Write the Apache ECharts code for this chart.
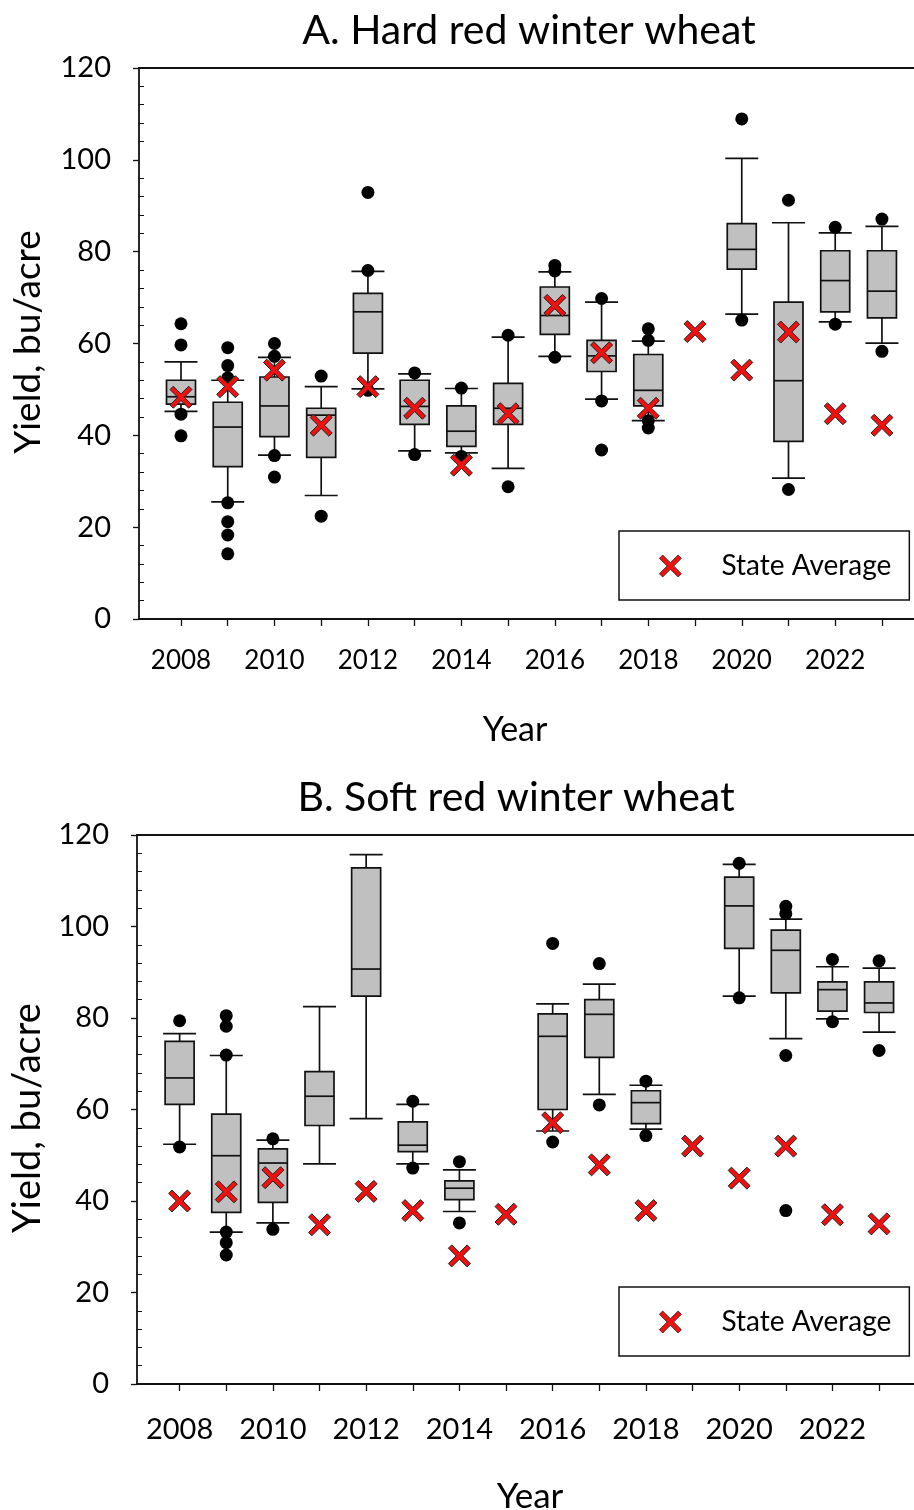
<!DOCTYPE html>
<html>
<head>
<meta charset="utf-8">
<script src="https://cdn.jsdelivr.net/npm/echarts@6/dist/echarts.min.js"></script>
<style>
html, body { margin: 0; padding: 0; background: #fff; }
#box { width: 914px; height: 1510px; }
</style>
</head>
<body>
<div id="box"></div>
<script>
// year axis
const tickYears = [2008, 2009, 2010, 2011, 2012, 2013, 2014, 2015, 2016, 2017, 2018, 2019, 2020, 2021, 2022, 2023]
const labelYears = [2008, 2010, 2012, 2014, 2016, 2018, 2020, 2022]

// A. Hard red winter wheat
const hrwBoxYears = [2008, 2009, 2010, 2011, 2012, 2013, 2014, 2015, 2016, 2017, 2018, 2020, 2021, 2022, 2023]
const hrwLow = [45.2, 25.5, 35.7, 26.9, 50.1, 36.6, 36.2, 32.8, 57.2, 47.9, 43.2, 66.4, 30.7, 64.7, 60.1]
const hrwQ1 = [46.8, 33.2, 39.7, 35.2, 57.9, 42.4, 37.6, 42.4, 62.0, 53.9, 46.4, 76.2, 38.7, 66.9, 65.6]
const hrwMedian = [48.4, 41.8, 46.4, 44.4, 66.9, 46.3, 40.9, 45.9, 66.1, 57.3, 49.8, 80.5, 51.9, 73.7, 71.4]
const hrwQ3 = [52.0, 47.2, 52.7, 45.9, 70.9, 52.0, 46.4, 51.3, 72.3, 60.7, 57.6, 86.1, 69.0, 80.2, 80.2]
const hrwHigh = [56.0, 52.0, 57.0, 50.6, 75.7, 53.4, 50.2, 61.4, 75.6, 69.0, 60.5, 100.3, 86.3, 84.1, 85.5]
const hrwOutliers = [
  [2008, 64.3], [2008, 59.7], [2008, 44.6], [2008, 39.9],
  [2009, 59.1], [2009, 55.2], [2009, 52.5], [2009, 25.3], [2009, 21.2], [2009, 18.3], [2009, 14.2],
  [2010, 60.0], [2010, 57.2], [2010, 35.6], [2010, 30.9],
  [2011, 52.9], [2011, 22.4],
  [2012, 92.9], [2012, 75.9], [2012, 49.8],
  [2013, 53.6], [2013, 35.8],
  [2014, 50.3], [2014, 35.4],
  [2015, 61.8], [2015, 28.8],
  [2016, 77.0], [2016, 75.8], [2016, 57.0],
  [2017, 69.8], [2017, 47.5], [2017, 36.8],
  [2018, 63.2], [2018, 60.7], [2018, 43.2], [2018, 41.6],
  [2020, 108.9], [2020, 65.1],
  [2021, 91.2], [2021, 28.2],
  [2022, 85.3], [2022, 64.2],
  [2023, 87.1], [2023, 58.3]
]
const hrwStateAvg = [48.3, 50.6, 54.2, 42.2, 50.6, 45.9, 33.5, 44.7, 68.3, 58.0, 45.9, 62.6, 54.2, 62.5, 44.7, 42.2]

// B. Soft red winter wheat
const srwBoxYears = [2008, 2009, 2010, 2011, 2012, 2013, 2014, 2016, 2017, 2018, 2020, 2021, 2022, 2023]
const srwLow = [52.4, 33.2, 35.2, 48.1, 58.0, 48.1, 37.7, 55.3, 63.3, 55.7, 84.8, 75.5, 79.8, 76.9]
const srwQ1 = [61.1, 37.5, 39.7, 56.5, 84.8, 50.8, 40.3, 60.0, 71.4, 56.9, 95.2, 85.5, 81.5, 81.2]
const srwMedian = [66.9, 49.9, 48.3, 62.9, 90.7, 52.2, 42.8, 76.0, 80.8, 61.5, 104.5, 94.8, 86.2, 83.3]
const srwQ3 = [74.9, 59.0, 51.4, 68.3, 112.8, 57.3, 44.4, 80.9, 84.0, 64.1, 110.8, 99.2, 87.9, 87.9]
const srwHigh = [76.6, 71.8, 53.3, 82.5, 115.7, 61.1, 46.8, 83.1, 87.4, 65.3, 113.6, 101.6, 91.2, 90.9]
const srwOutliers = [
  [2008, 79.4], [2008, 51.8],
  [2009, 80.5], [2009, 78.2], [2009, 71.9], [2009, 33.2], [2009, 30.9], [2009, 28.2],
  [2010, 53.6], [2010, 33.8],
  [2013, 61.8], [2013, 47.2],
  [2014, 48.6], [2014, 35.2],
  [2016, 96.3], [2016, 52.9],
  [2017, 91.9], [2017, 61.0],
  [2018, 66.2], [2018, 54.3],
  [2020, 113.8], [2020, 84.4],
  [2021, 104.4], [2021, 102.8], [2021, 71.8], [2021, 37.9],
  [2022, 92.8], [2022, 79.2],
  [2023, 92.5], [2023, 72.9]
]
const srwStateAvg = [40.0, 42.0, 45.1, 34.8, 42.1, 37.9, 28.0, 37.1, 57.1, 47.9, 37.9, 52.0, 45.0, 52.0, 37.0, 35.0]

const FONT = 'Lato'
const INK = '#111'
const RED = '#f01010'
const CROSS = 'path://M0,15 L15,0 L50,35 L85,0 L100,15 L65,50 L100,85 L85,100 L50,65 L15,100 L0,85 L35,50 Z'

function boxRows(years, low, q1, med, q3, high) {
  return years.map((y, i) => [y, low[i], q1[i], med[i], q3[i], high[i]])
}

function renderBox(params, api) {
  const x = api.value(0)
  const lo = api.coord([x, api.value(1)])
  const q1 = api.coord([x, api.value(2)])
  const md = api.coord([x, api.value(3)])
  const q3 = api.coord([x, api.value(4)])
  const hi = api.coord([x, api.value(5)])
  const cx = lo[0]
  const bw = 14.5
  const cw = 16.5
  const ls = { stroke: INK, lineWidth: 1.7 }
  return {
    type: 'group',
    children: [
      { type: 'line', shape: { x1: cx, y1: hi[1], x2: cx, y2: lo[1] }, style: ls },
      { type: 'line', shape: { x1: cx - cw, y1: hi[1], x2: cx + cw, y2: hi[1] }, style: ls },
      { type: 'line', shape: { x1: cx - cw, y1: lo[1], x2: cx + cw, y2: lo[1] }, style: ls },
      { type: 'rect', shape: { x: cx - bw, y: q3[1], width: 2 * bw, height: q1[1] - q3[1] }, style: { fill: '#c0c0c0', stroke: INK, lineWidth: 1.7 } },
      { type: 'line', shape: { x1: cx - bw, y1: md[1], x2: cx + bw, y2: md[1] }, style: ls }
    ]
  }
}

function xAxis(idx, min, max, size, margin) {
  return {
    type: 'value',
    gridIndex: idx,
    min: min,
    max: max,
    position: 'bottom',
    axisLine: { show: true, onZero: false, lineStyle: { color: INK, width: 1.8 } },
    axisTick: { show: true, length: 7, customValues: tickYears, lineStyle: { color: INK, width: 1.3 } },
    axisLabel: { show: true, customValues: labelYears, formatter: v => String(v), fontFamily: FONT, fontSize: size, color: '#000', margin: margin },
    splitLine: { show: false }
  }
}

// plain line along the top of each plot
function frameAxis(idx, min, max) {
  return {
    type: 'value',
    gridIndex: idx,
    min: min,
    max: max,
    position: 'top',
    axisLine: { show: true, onZero: false, lineStyle: { color: INK, width: 1.8 } },
    axisTick: { show: false },
    axisLabel: { show: false },
    splitLine: { show: false }
  }
}

function yAxes(idx) {
  return [
    {
      type: 'value',
      gridIndex: idx,
      min: 0,
      max: 120,
      interval: 20,
      position: 'left',
      axisLine: { show: true, onZero: false, lineStyle: { color: INK, width: 1.8 } },
      axisTick: { show: true, length: 6, lineStyle: { color: INK, width: 1.3 } },
      axisLabel: { fontFamily: FONT, fontSize: 29, color: '#000', margin: 28 },
      splitLine: { show: false }
    },
    {
      type: 'value',
      gridIndex: idx,
      min: 0,
      max: 120,
      interval: 20,
      position: 'left',
      axisLine: { show: false },
      axisTick: { show: false, inside: true },
      minorTick: { show: true, splitNumber: 5, length: 5, lineStyle: { color: INK, width: 1 } },
      axisLabel: { show: false },
      splitLine: { show: false }
    }
  ]
}

function seriesFor(idx, rows, outliers, stateAvg) {
  return [
    {
      type: 'custom',
      xAxisIndex: idx,
      yAxisIndex: idx * 2,
      renderItem: renderBox,
      encode: { x: 0, y: [1, 2, 3, 4, 5] },
      data: rows,
      silent: true,
      z: 2
    },
    {
      type: 'scatter',
      name: 'outliers',
      xAxisIndex: idx,
      yAxisIndex: idx * 2,
      symbol: 'circle',
      symbolSize: 13,
      itemStyle: { color: '#000', opacity: 1 },
      data: outliers,
      silent: true,
      z: 3
    },
    {
      type: 'scatter',
      name: 'State Average',
      xAxisIndex: idx,
      yAxisIndex: idx * 2,
      symbol: CROSS,
      symbolSize: 22,
      itemStyle: { color: RED, borderColor: '#222', borderWidth: 1, opacity: 1 },
      data: tickYears.map((y, i) => [y, stateAvg[i]]),
      silent: true,
      z: 4
    }
  ]
}

function legendAt(top) {
  return {
    data: ['State Average'],
    left: 619,
    top: top,
    orient: 'horizontal',
    backgroundColor: '#fff',
    borderColor: INK,
    borderWidth: 1.5,
    borderRadius: 0,
    padding: [21, 18, 20, 40],
    itemWidth: 22,
    itemHeight: 22,
    icon: CROSS,
    itemStyle: { color: RED, borderColor: '#222', borderWidth: 0.8, opacity: 1 },
    selectedMode: false,
    textStyle: { fontFamily: FONT, fontSize: 28, color: '#000', padding: [0, 0, 0, 35] }
  }
}

const topRange = [2007.101, 2023.686]
const botRange = [2007.086, 2023.749]

const myChart = echarts.init(document.getElementById('box'), null, { renderer: 'canvas' })
myChart.setOption({
  animation: false,
  backgroundColor: '#fff',
  title: [
    { text: 'A. Hard red winter wheat', left: 529, top: 10, textAlign: 'center', padding: 0, textStyle: { fontFamily: FONT, fontSize: 41, fontWeight: 'normal', color: '#000' } },
    { text: 'B. Soft red winter wheat', left: 516, top: 777, textAlign: 'center', padding: 0, textStyle: { fontFamily: FONT, fontSize: 41, fontWeight: 'normal', color: '#000' } }
  ],
  grid: [
    { left: 139, right: 0, top: 68, height: 551, show: false },
    { left: 137, right: 0, top: 835, height: 549, show: false }
  ],
  xAxis: [
    xAxis(0, topRange[0], topRange[1], 26, 29),
    xAxis(1, botRange[0], botRange[1], 29, 31),
    frameAxis(0, topRange[0], topRange[1]),
    frameAxis(1, botRange[0], botRange[1])
  ],
  yAxis: [...yAxes(0), ...yAxes(1)],
  legend: [legendAt(531), legendAt(1287)],
  graphic: [
    { type: 'text', x: 28, y: 342, rotation: Math.PI / 2, style: { text: 'Yield, bu/acre', fontFamily: FONT, fontSize: 37, fill: '#000', align: 'center', verticalAlign: 'middle' } },
    { type: 'text', x: 28, y: 1118, rotation: Math.PI / 2, style: { text: 'Yield, bu/acre', fontFamily: FONT, fontSize: 38, fill: '#000', align: 'center', verticalAlign: 'middle' } },
    { type: 'text', x: 515, y: 730, style: { text: 'Year', fontFamily: FONT, fontSize: 34, fill: '#000', align: 'center', verticalAlign: 'middle' } },
    { type: 'text', x: 530, y: 1497, style: { text: 'Year', fontFamily: FONT, fontSize: 35, fill: '#000', align: 'center', verticalAlign: 'middle' } }
  ],
  series: [
    ...seriesFor(0, boxRows(hrwBoxYears, hrwLow, hrwQ1, hrwMedian, hrwQ3, hrwHigh), hrwOutliers, hrwStateAvg),
    ...seriesFor(1, boxRows(srwBoxYears, srwLow, srwQ1, srwMedian, srwQ3, srwHigh), srwOutliers, srwStateAvg)
  ]
})
</script>
</body>
</html>
